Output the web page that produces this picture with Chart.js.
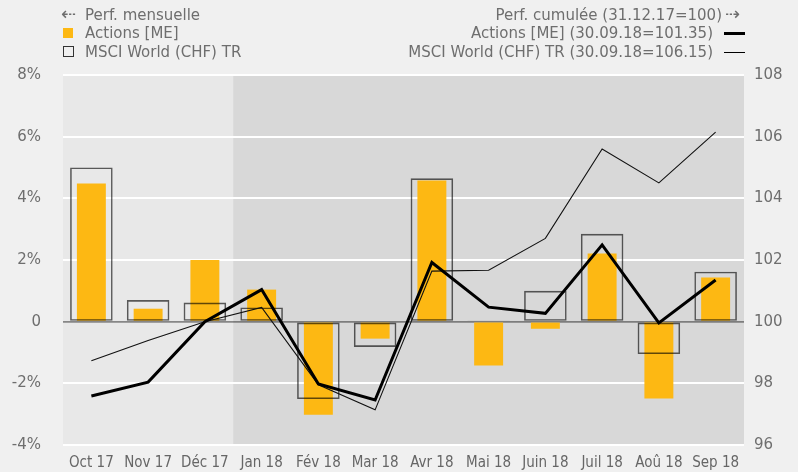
<!DOCTYPE html>
<html>
<head>
<meta charset="utf-8">
<script src="https://cdn.jsdelivr.net/npm/chart.js@4/dist/chart.umd.min.js"></script>
<style>
  html, body { margin: 0; padding: 0; background: #f0f0f0; }
  #wrap { position: relative; width: 798px; height: 472px; overflow: hidden; }
  canvas { position: absolute; left: 0; top: 0; }
  .lg { position: absolute; font-family: "DejaVu Sans", Verdana, sans-serif; font-size: 15px; color: #6e6e6e; line-height: 18px; white-space: nowrap; }
  .sw { position: absolute; box-sizing: border-box; }
</style>
</head>
<body>
<div id="wrap">
  <canvas id="c" width="798" height="472"></canvas>
  <!-- left legend -->
  <div class="lg" style="left:61px; top:5px; font-size:18px;">⇠</div>
  <div class="lg" style="left:85px; top:6px;">Perf. mensuelle</div>
  <div class="sw" style="left:63px; top:28px; width:10px; height:10px; background:#FDB813;"></div>
  <div class="lg" style="left:85px; top:24px;">Actions [ME]</div>
  <div class="sw" style="left:63px; top:46px; width:11px; height:11px; border:1.5px solid #333;"></div>
  <div class="lg" style="left:85px; top:43px;">MSCI World (CHF) TR</div>
  <!-- right legend -->
  <div class="lg" style="right:76px; top:6px; text-align:right;">Perf. cumulée (31.12.17=100)</div>
  <div class="lg" style="left:725px; top:5px; font-size:18px;">⇢</div>
  <div class="lg" style="right:85px; top:24px; text-align:right;">Actions [ME] (30.09.18=101.35)</div>
  <div class="sw" style="left:724px; top:32px; width:21px; height:3px; background:#000;"></div>
  <div class="lg" style="right:85px; top:43px; text-align:right;">MSCI World (CHF) TR (30.09.18=106.15)</div>
  <div class="sw" style="left:724px; top:52px; width:21px; height:1px; background:#000;"></div>
</div>
<script>
const categories = ['Oct 17','Nov 17','Déc 17','Jan 18','Fév 18','Mar 18','Avr 18','Mai 18','Juin 18','Juil 18','Aoû 18','Sep 18'];
const actionsMonthly = [4.48, 0.42, 2.00, 1.04, -3.02, -0.55, 4.58, -1.42, -0.23, 2.21, -2.49, 1.43];
const msciMonthly = [5.00, 0.70, 0.62, 0.46, -2.51, -0.82, 4.65, 0.04, 1.00, 2.85, -1.05, 1.62];
const actionsCumulative = [97.59, 98.04, 100.00, 101.04, 97.98, 97.46, 101.92, 100.47, 100.27, 102.49, 99.96, 101.35];
const msciCumulative = [98.73, 99.39, 100.00, 100.46, 97.95, 97.14, 101.64, 101.67, 102.70, 105.60, 104.50, 106.15];
const leftTicks = [-4, -2, 0, 2, 4, 6, 8];
const rightTicks = [96, 98, 100, 102, 104, 106, 108];

const bgPlugin = {
  id: 'bgPlugin',
  beforeDraw(chart) {
    const { ctx, chartArea: a, scales } = chart;
    ctx.save();
    ctx.fillStyle = '#e8e8e8';
    ctx.fillRect(a.left, a.top, a.right - a.left, a.bottom - a.top);
    const x = (scales.x.getPixelForValue(2) + scales.x.getPixelForValue(3)) / 2;
    ctx.fillStyle = '#d8d8d8';
    ctx.fillRect(x, a.top, a.right - x, a.bottom - a.top);
    ctx.restore();
  }
};

new Chart(document.getElementById('c'), {
  data: {
    labels: categories,
    datasets: [
      { type: 'line', label: 'Actions [ME] cumul', data: actionsCumulative, yAxisID: 'y2',
        borderColor: '#000', borderWidth: 3, pointRadius: 0, tension: 0, order: 0 },
      { type: 'line', label: 'MSCI cumul', data: msciCumulative, yAxisID: 'y2',
        borderColor: '#111', borderWidth: 1.1, pointRadius: 0, tension: 0, order: 1 },
      { type: 'bar', label: 'MSCI World (CHF) TR', data: msciMonthly, yAxisID: 'y',
        backgroundColor: 'rgba(0,0,0,0)', borderColor: 'rgba(0,0,0,0.62)', borderWidth: 1.6,
        borderSkipped: false, grouped: false, barPercentage: 0.75, categoryPercentage: 1, order: 2 },
      { type: 'bar', label: 'Actions [ME]', data: actionsMonthly, yAxisID: 'y',
        backgroundColor: '#FDB813', borderWidth: 0, grouped: false,
        barPercentage: 0.51, categoryPercentage: 1, order: 3 }
    ]
  },
  options: {
    responsive: false,
    animation: false,
    devicePixelRatio: 1,
    layout: { padding: { top: 75, bottom: 0, left: 0, right: 0 } },
    plugins: { legend: { display: false }, tooltip: { enabled: false } },
    scales: {
      x: {
        type: 'category',
        offset: true,
        grid: { display: false, drawTicks: false },
        border: { display: false },
        ticks: { color: '#666666', padding: 9, maxRotation: 0, autoSkip: false,
          font: { family: '"DejaVu Sans Condensed", "DejaVu Sans", sans-serif', size: 15 } },
        afterFit(s) { s.height = 27; s.paddingLeft = 0; s.paddingRight = 0; }
      },
      y: {
        position: 'left',
        min: -4, max: 8,
        afterBuildTicks(s) { s.ticks = leftTicks.map(v => ({ value: v })); },
        grid: {
          drawTicks: false,
          color: c => c.tick && c.tick.value === 0 ? 'rgba(0,0,0,0.42)' : '#ffffff',
          lineWidth: c => c.tick && c.tick.value === 0 ? 1.8 : 2
        },
        border: { display: false },
        ticks: { color: '#6e6e6e', padding: 22,
          callback: v => v === 0 ? '0' : v + '%',
          font: { family: '"DejaVu Sans", sans-serif', size: 15 } },
        afterFit(s) { s.width = 63; s.paddingTop = 0; s.paddingBottom = 0; }
      },
      y2: {
        position: 'right',
        min: 96, max: 108,
        afterBuildTicks(s) { s.ticks = rightTicks.map(v => ({ value: v })); },
        grid: { drawOnChartArea: false, drawTicks: false },
        border: { display: false },
        ticks: { color: '#6e6e6e', padding: 10,
          font: { family: '"DejaVu Sans", sans-serif', size: 15 } },
        afterFit(s) { s.width = 54; s.paddingTop = 0; s.paddingBottom = 0; }
      }
    }
  },
  plugins: [bgPlugin]
});
</script>
</body>
</html>
